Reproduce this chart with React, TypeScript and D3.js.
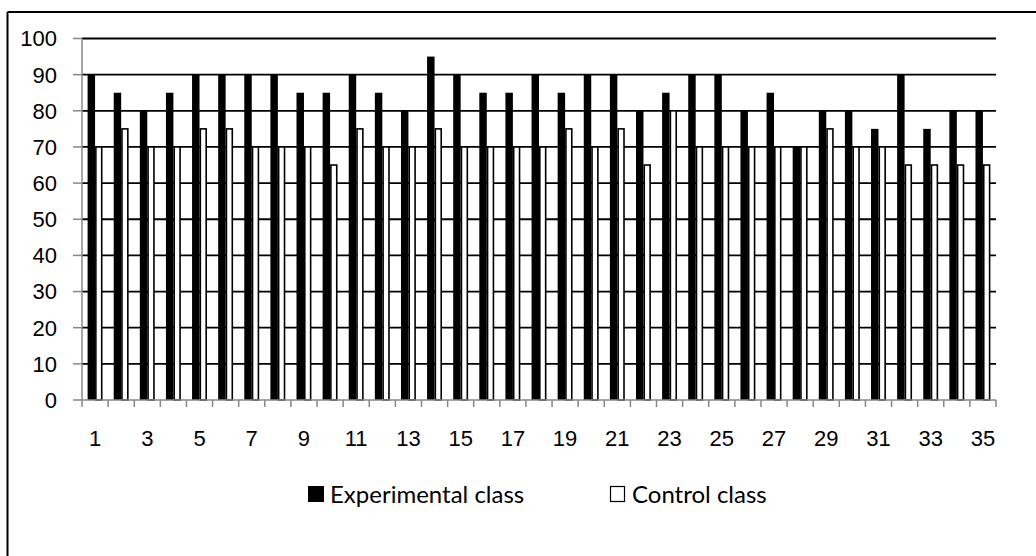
import React from "react";
import * as d3 from "d3";

const categories: string[] = Array.from({ length: 35 }, (_, i) => String(i + 1));
const experimental: number[] = [90, 85, 80, 85, 90, 90, 90, 90, 85, 85, 90, 85, 80, 95, 90, 85, 85, 90, 85, 90, 90, 80, 85, 90, 90, 80, 85, 70, 80, 80, 75, 90, 75, 80, 80];
const control: number[] = [70, 75, 70, 70, 75, 75, 70, 70, 70, 65, 75, 70, 70, 75, 70, 70, 70, 70, 75, 70, 75, 65, 80, 70, 70, 70, 70, 70, 75, 70, 70, 65, 65, 65, 65];
const yTicks: number[] = [0, 10, 20, 30, 40, 50, 60, 70, 80, 90, 100];
const seriesNames: string[] = ["Experimental class", "Control class"];

export default function App() {
  const W = 1036, H = 556;
  const left = 82, right = 996, top = 38.5, bottom = 400;
  const x = d3.scaleBand<string>().domain(categories).range([left, right]);
  const y = d3.scaleLinear().domain([0, 100]).range([bottom, top]);
  const bw = x.bandwidth();
  const barW = bw / 3.5;
  const off = barW * 0.75;
  const axisFont = "Liberation Sans, Arial, sans-serif";
  const legendFont = "Lato, sans-serif";

  return (
    <svg width={W} height={H} style={{ position: "absolute", left: 0, top: 0, background: "#fff" }}>
      <rect x={0} y={0} width={W} height={H} fill="#fff" />
      {/* outer frame */}
      <line x1={7.5} y1={12} x2={W} y2={12} stroke="#000" strokeWidth={2} />
      <line x1={7.5} y1={12} x2={7.5} y2={H} stroke="#000" strokeWidth={2} />

      {/* gridlines */}
      {yTicks.filter(t => t > 0).map(t => (
        <line key={"g" + t} x1={left} x2={right} y1={y(t)} y2={y(t)} stroke="#000" strokeWidth={1.8} />
      ))}

      {/* bars */}
      {categories.map((c, i) => {
        const x0 = (x(c) as number) + off;
        return (
          <g key={"b" + c}>
            <rect x={x0} y={y(experimental[i])} width={barW} height={bottom - y(experimental[i])} fill="#000" />
            <rect x={x0 + barW + 0.8} y={y(control[i])} width={barW - 1.6} height={bottom - y(control[i])} fill="#fff" stroke="#000" strokeWidth={1.6} />
          </g>
        );
      })}

      {/* y axis */}
      <line x1={left} x2={left} y1={top} y2={bottom} stroke="#888" strokeWidth={1.5} />
      {yTicks.map(t => (
        <g key={"y" + t}>
          <line x1={left - 9} x2={left} y1={y(t)} y2={y(t)} stroke="#888" strokeWidth={1.5} />
          <text x={57} y={y(t)} dy="0.36em" textAnchor="end" fontFamily={axisFont} fontSize={22} fill="#000">{t}</text>
        </g>
      ))}

      {/* x axis */}
      <line x1={left} x2={right} y1={bottom} y2={bottom} stroke="#888" strokeWidth={1.5} />
      {d3.range(categories.length + 1).map(i => {
        const tx = left + i * bw;
        return <line key={"xt" + i} x1={tx} x2={tx} y1={bottom} y2={bottom + 7} stroke="#888" strokeWidth={1.5} />;
      })}
      {categories.map((c, i) => i % 2 === 0 ? (
        <text key={"xl" + c} x={(x(c) as number) + bw / 2} y={438} dy="0.36em" textAnchor="middle" fontFamily={axisFont} fontSize={22} fill="#000">{c}</text>
      ) : null)}

      {/* legend */}
      <rect x={308} y={486} width={16} height={16} fill="#000" />
      <text x={330} y={494} dy="0.36em" fontFamily={legendFont} fontSize={24} fill="#000">{seriesNames[0]}</text>
      <rect x={610.5} y={486.5} width={14} height={15} fill="#fff" stroke="#000" strokeWidth={1.2} />
      <text x={632} y={494} dy="0.36em" fontFamily={legendFont} fontSize={24} fill="#000">{seriesNames[1]}</text>
    </svg>
  );
}
